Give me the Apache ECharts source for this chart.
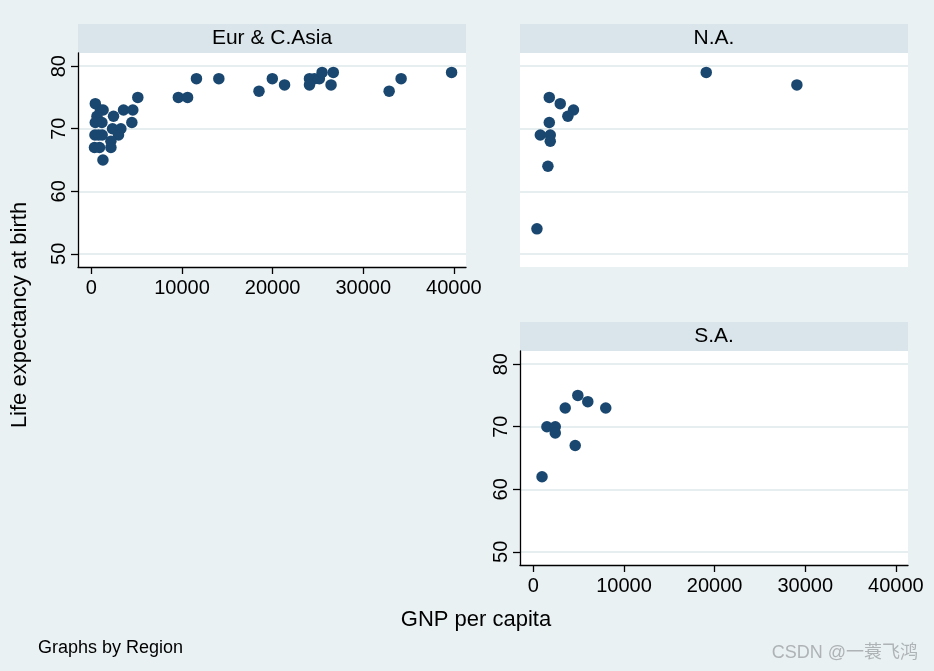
<!DOCTYPE html>
<html>
<head>
<meta charset="utf-8">
<script src="https://cdn.jsdelivr.net/npm/echarts@6/dist/echarts.min.js"></script>
<style>
html,body{margin:0;padding:0;background:#eaf1f3;}
#c{width:934px;height:671px;}
</style>
</head>
<body>
<div id="c"></div>
<script>
// ---- data ----
const panelNames = ['Eur & C.Asia', 'N.A.', 'S.A.'];
const xTicks = [0, 10000, 20000, 30000, 40000];
const yTicks = [50, 60, 70, 80];

const eurGnp  = [440, 1000, 1300, 3550, 4580, 620, 2450, 440, 1170, 4470, 2340, 3260, 400, 800, 1200, 3000, 2160, 350, 900, 2160, 1280, 5130, 9600, 10620, 11600, 14070, 18500, 19970, 21320, 24070, 24620, 25160, 24070, 25460, 26700, 26450, 32860, 34180, 39750];
const eurLife = [74,  73,   73,   73,   73,   72,  72,   71,  71,   71,   70,   70,   69,  69,  69,   69,   68,   67,  67,  67,   65,   75,   75,   75,    78,    78,    76,    78,    77,    78,    78,    78,    77,    79,    79,    77,    76,    78,    79];

const naGnp  = [1760, 2970, 4430, 3810, 1760, 770, 1870, 1870, 1610, 400, 19080, 29080];
const naLife = [75,   74,   73,   72,   71,   69,  69,   68,   64,   54,  79,    77];

const saGnp  = [4910, 6010, 3520, 7990, 1500, 2420, 2420, 4620, 960];
const saLife = [75,   74,   73,   73,   70,   70,   69,   67,   62];

// ---- layout / style ----
const BG = '#eaf1f3', STRIP = '#d9e5eb', GRIDC = '#e6eef0', NAVY = '#1a476f';
const FONT = '"Liberation Sans", Arial, sans-serif';
const grids = [
  {left: 78, top: 53, width: 388, height: 214},
  {left: 520, top: 53, width: 388, height: 214},
  {left: 520, top: 351, width: 388, height: 214}
];
const XMIN = -1470, XMAX = 41340, YMIN = 47.9, YMAX = 82.1;
const showAxes = [true, false, true];

const chart = echarts.init(document.getElementById('c'), null, {renderer: 'canvas'});

const xAxes = grids.map((g, i) => ({
  type: 'value', gridIndex: i, min: XMIN, max: XMAX,
  axisLine: {show: showAxes[i], onZero: false, lineStyle: {color: '#000', width: 1.3}},
  axisTick: {show: showAxes[i], length: 7, lineStyle: {color: '#000', width: 1.3}, customValues: xTicks},
  axisLabel: {show: showAxes[i], customValues: xTicks, formatter: v => String(v), color: '#000', fontSize: 20, fontFamily: FONT, margin: 11},
  splitLine: {show: false}
}));
const yAxes = grids.map((g, i) => ({
  type: 'value', gridIndex: i, min: YMIN, max: YMAX,
  axisLine: {show: showAxes[i], onZero: false, lineStyle: {color: '#000', width: 1.3}},
  axisTick: {show: showAxes[i], length: 7, lineStyle: {color: '#000', width: 1.3}, customValues: yTicks},
  axisLabel: {show: showAxes[i], customValues: yTicks, formatter: v => String(v), rotate: 90, color: '#000', fontSize: 20, fontFamily: FONT, margin: 9},
  splitLine: {show: true, lineStyle: {color: GRIDC, width: 2}}
}));

const seriesData = [
  eurGnp.map((v, k) => [v, eurLife[k]]),
  naGnp.map((v, k) => [v, naLife[k]]),
  saGnp.map((v, k) => [v, saLife[k]])
];

const graphics = [];
grids.forEach((g, i) => {
  graphics.push({
    type: 'rect', silent: true, z: -1,
    shape: {x: g.left, y: g.top - 29, width: g.width, height: 29},
    style: {fill: STRIP}
  });
  graphics.push({
    type: 'text', silent: true,
    x: g.left + g.width / 2, y: g.top - 14.5,
    style: {text: panelNames[i], fill: '#000', font: '21px ' + FONT, align: 'center', verticalAlign: 'middle'}
  });
});
graphics.push({
  type: 'text', silent: true, x: 476, y: 620,
  style: {text: 'GNP per capita', fill: '#000', font: '22px ' + FONT, align: 'center', verticalAlign: 'middle'}
});
graphics.push({
  type: 'text', silent: true, x: 20, y: 315, rotation: Math.PI / 2,
  style: {text: 'Life expectancy at birth', fill: '#000', font: '22px ' + FONT, align: 'center', verticalAlign: 'middle'}
});
graphics.push({
  type: 'text', silent: true, x: 38, y: 648,
  style: {text: 'Graphs by Region', fill: '#000', font: '18px ' + FONT, align: 'left', verticalAlign: 'middle'}
});
graphics.push({
  type: 'text', silent: true, x: 918, y: 653,
  style: {text: 'CSDN @一蓑飞鸿', fill: '#aeb3b5', font: '18px "Liberation Sans", "Noto Sans CJK SC", sans-serif', align: 'right', verticalAlign: 'middle'}
});

chart.setOption({
  backgroundColor: BG,
  animation: false,
  grid: grids.map(g => Object.assign({show: true, backgroundColor: '#fff', borderWidth: 0}, g)),
  xAxis: xAxes,
  yAxis: yAxes,
  series: seriesData.map((d, i) => ({
    type: 'scatter', xAxisIndex: i, yAxisIndex: i, data: d,
    symbol: 'circle', symbolSize: 11.5,
    itemStyle: {color: NAVY, opacity: 1},
    clip: false
  })),
  graphic: graphics
});
</script>
</body>
</html>
